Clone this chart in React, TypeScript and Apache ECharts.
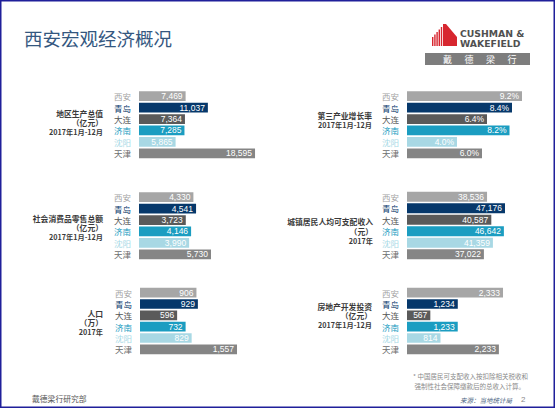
import React, { useEffect, useRef } from "react";
import * as echarts from "echarts";

const cities = ["西安", "青岛", "大连", "济南", "沈阳", "天津"];
const gdp = [7469, 11037, 7364, 7285, 5865, 18595];
const tertiaryGrowth = [9.2, 8.4, 6.4, 8.2, 4.0, 6.0];
const retailSales = [4330, 4541, 3723, 4146, 3990, 5730];
const disposableIncome = [38536, 47176, 40587, 46642, 41359, 37022];
const population = [906, 929, 596, 732, 829, 1557];
const realEstateInvestment = [2333, 1234, 567, 1233, 814, 2233];

const panelTitles = [
  ["地区生产总值", "（亿元）", "2017年1月-12月"],
  ["第三产业增长率", "2017年1月-12月"],
  ["社会消费品零售总额", "（亿元）", "2017年1月-12月"],
  ["城镇居民人均可支配收入", "（元）", "2017年"],
  ["人口", "（万）", "2017年"],
  ["房地产开发投资", "（亿元）", "2017年1月-12月"],
];

const barColors = ["#a6a6a6", "#06386b", "#5a5a5a", "#1b9dc1", "#a8d8e4", "#858585"];
const labelColors = ["#a3a3a3", "#0c3b6e", "#555555", "#1b9bbf", "#a6d9e6", "#6d6d6d"];

const FONT = "'Noto Sans CJK SC', 'Noto Sans', sans-serif";

export default function App() {
  const ref = useRef<HTMLDivElement>(null);
  useEffect(() => {
    document.body.style.margin = "0";
    const chart = echarts.init(ref.current!, null, { renderer: "svg" });

    const panels = [
      { data: gdp, max: 19230, left: 139, top: 90.5, height: 68.5, pct: false, titleX: 103, titleY: [113, 122.5, 132] },
      { data: tertiaryGrowth, max: 9.6, left: 407, top: 90.5, height: 68.5, pct: true, titleX: 372, titleY: [115.5, 125] },
      { data: retailSales, max: 9550, left: 139, top: 191.5, height: 68.5, pct: false, titleX: 103, titleY: [218, 227.5, 237] },
      { data: disposableIncome, max: 57770, left: 407, top: 191, height: 69, pct: false, titleX: 373, titleY: [221, 231, 240.5] },
      { data: population, max: 1926, left: 140, top: 287, height: 68, pct: false, titleX: 103, titleY: [313, 322.5, 332] },
      { data: realEstateInvestment, max: 2916, left: 407, top: 287, height: 68, pct: false, titleX: 372, titleY: [306, 315.5, 325] },
    ];

    const grid = panels.map((p) => ({ left: p.left, top: p.top, width: 120, height: p.height }));
    const xAxis = panels.map((p, i) => ({
      type: "value", gridIndex: i, min: 0, max: p.max, show: false,
    }));
    const yAxis = panels.map((p, i) => ({
      type: "category", gridIndex: i, data: cities, inverse: true,
      axisLine: { show: false }, axisTick: { show: false },
      axisLabel: {
        margin: 8, fontSize: 8.5, fontFamily: FONT,
        color: (_v: any, idx: number) => labelColors[idx],
      },
    }));
    const series = panels.map((p, i) => ({
      type: "bar", xAxisIndex: i, yAxisIndex: i,
      barCategoryGap: "14%",
      data: p.data.map((v, k) => ({ value: v, itemStyle: { color: barColors[k] } })),
      label: {
        show: true, position: "insideRight", distance: 3,
        color: "#ffffff", fontSize: 8.5, fontFamily: "'Liberation Sans', Arial, sans-serif",
        formatter: (q: any) => (p.pct ? q.value.toFixed(1) + "%" : q.value.toLocaleString("en-US")),
      },
    }));

    const titleTexts: any[] = [];
    panels.forEach((p, i) => {
      panelTitles[i].forEach((t, k) => {
        const isYear = t.startsWith("2017");
        titleTexts.push({
          type: "text", x: p.titleX, y: p.titleY[k],
          style: {
            text: t, align: "right", verticalAlign: "middle", lineHeight: 8.5,
            fontSize: isYear ? 7.2 : 7.8, fontWeight: "bold", fontFamily: FONT, fill: "#3a3a3a",
          },
        });
      });
    });

    const stripes: any[] = [];
    const stripeTops = [37, 34.5, 32, 29.5, 27];
    stripeTops.forEach((t, k) => {
      stripes.push({ type: "rect", shape: { x: 432 + k * 2.2, y: t, width: 1.4, height: 46 - t }, style: { fill: "#d7262f" } });
    });

    const logoChars = ["戴", "德", "梁", "行"];
    const logoCharTexts = logoChars.map((c, k) => ({
      type: "text", x: 447.5 + k * 21.5, y: 59,
      style: { text: c, align: "center", verticalAlign: "middle", fontSize: 9, fontFamily: FONT, fill: "#ffffff" },
    }));

    chart.setOption({
      animation: false,
      backgroundColor: "#ffffff",
      grid, xAxis, yAxis, series,
      graphic: [
        { type: "rect", shape: { x: 0.75, y: 0.75, width: 553.5, height: 406.5 }, style: { fill: "none", stroke: "#1f1f9a", lineWidth: 1.5 } },
        { type: "text", x: 24, y: 37.5, style: { text: "西安宏观经济概况", verticalAlign: "middle", fontSize: 18.5, fontFamily: FONT, fill: "#34577f" } },
        ...stripes,
        { type: "polygon", shape: { points: [[443, 46], [443, 24], [446, 24], [457, 37], [457, 46]] }, style: { fill: "#d7262f" } },
        { type: "text", x: 460, y: 33.5, style: { text: "CUSHMAN &", verticalAlign: "middle", fontSize: 9.3, fontWeight: "bold", fontFamily: "'DejaVu Sans', sans-serif", fill: "#505050" } },
        { type: "text", x: 460, y: 43, style: { text: "WAKEFIELD", verticalAlign: "middle", fontSize: 9.3, fontWeight: "bold", fontFamily: "'DejaVu Sans', sans-serif", fill: "#505050" } },
        { type: "rect", shape: { x: 425, y: 53, width: 105, height: 12 }, style: { fill: "#7d7d7d" } },
        ...logoCharTexts,
        ...titleTexts,
        { type: "text", x: 528, y: 376, style: { text: "* 中国居民可支配收入按扣除相关税收和", align: "right", verticalAlign: "middle", fontSize: 6.5, lineHeight: 8, fontFamily: FONT, fill: "#8a8a8a" } },
        { type: "text", x: 525, y: 385.5, style: { text: "强制性社会保障缴款后的总收入计算。", align: "right", verticalAlign: "middle", fontSize: 6.5, lineHeight: 8, fontFamily: FONT, fill: "#8a8a8a" } },
        { type: "text", x: 512, y: 399.5, style: { text: "来源：当地统计局", align: "right", verticalAlign: "middle", fontSize: 6.5, fontStyle: "italic", fontFamily: FONT, fill: "#4a5f80" } },
        { type: "text", x: 521, y: 399.5, style: { text: "2", verticalAlign: "middle", fontSize: 8, fontFamily: "'Liberation Sans', sans-serif", fill: "#8a8a8a" } },
        { type: "text", x: 32, y: 398.5, style: { text: "戴德梁行研究部", verticalAlign: "middle", fontSize: 7.8, fontFamily: FONT, fill: "#555555" } },
      ],
    });
    return () => chart.dispose();
  }, []);
  return <div ref={ref} style={{ width: 556, height: 410 }} />;
}
